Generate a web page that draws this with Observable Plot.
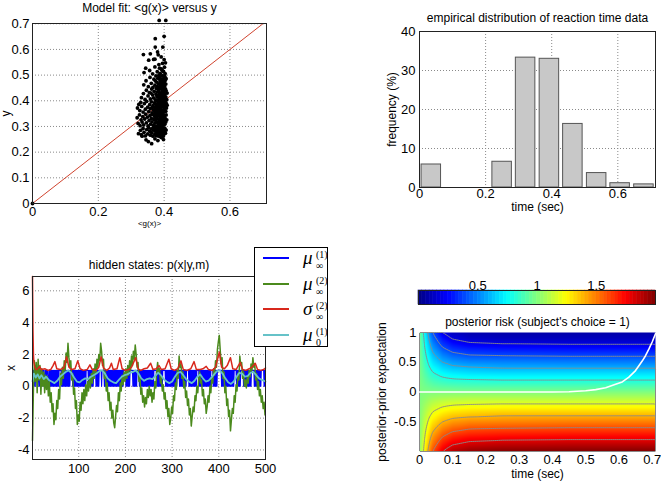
<!DOCTYPE html>
<html><head><meta charset="utf-8">
<script src="https://cdn.jsdelivr.net/npm/d3@7"></script>
<script src="https://cdn.jsdelivr.net/npm/@observablehq/plot@0.6"></script>
<style>
body{margin:0;background:#fff;font-family:"Liberation Sans",Arial,sans-serif;}
#root{position:relative;width:661px;height:483px;overflow:hidden;background:#fff;}
.lg{position:absolute;left:254px;top:247px;width:74px;height:100px;border:1px solid #000;background:#fff;box-sizing:border-box;}
.lg .ln{position:absolute;left:8px;width:26px;height:2px;}
.lg .mu{position:absolute;left:48px;font:italic 19px "Liberation Serif","DejaVu Serif",serif;line-height:19px;}
.lg .sp{position:absolute;left:61px;font:10px "Liberation Serif","DejaVu Serif",serif;line-height:10px;}
</style></head><body><div id="root"></div>
<script>
// ---------- Panel 1: model fit ----------
const fitTitle = "Model fit: <g(x)> versus y";
const fitXTicks = [0, 0.2, 0.4, 0.6];
const fitYTicks = [0, 0.1, 0.2, 0.3, 0.4, 0.5, 0.6, 0.7];
const fitIdentity = [0, 0.72];
const fitPairs = [
[0,0],
[0.333,0.262],[0.345,0.248],[0.352,0.241],[0.362,0.233],[0.372,0.252],[0.381,0.245],[0.392,0.257],[0.398,0.249],
[0.322,0.272],[0.328,0.285],[0.331,0.268],[0.336,0.292],[0.339,0.277],[0.343,0.263],[0.347,0.288],[0.35,0.271],[0.353,0.295],[0.356,0.282],[0.358,0.266],[0.361,0.291],[0.363,0.275],[0.366,0.262],[0.368,0.286],[0.37,0.297],[0.372,0.27],[0.374,0.281],[0.376,0.264],[0.378,0.293],[0.379,0.276],[0.381,0.287],[0.383,0.268],[0.384,0.298],[0.386,0.279],[0.387,0.261],[0.389,0.29],[0.39,0.272],[0.392,0.284],[0.393,0.265],[0.395,0.295],[0.396,0.277],[0.398,0.288],[0.399,0.269],[0.401,0.282],[0.402,0.293],[0.404,0.274],[0.406,0.286],[0.373,0.289],[0.382,0.263],[0.388,0.299],[0.394,0.27],[0.359,0.279],[0.367,0.294],[0.397,0.262],
[0.318,0.334],[0.321,0.312],[0.325,0.345],[0.327,0.303],[0.33,0.326],[0.333,0.317],[0.335,0.338],[0.338,0.306],[0.341,0.329],[0.344,0.348],[0.346,0.314],[0.349,0.336],[0.351,0.302],[0.354,0.323],[0.357,0.343],[0.359,0.309],[0.361,0.331],[0.363,0.318],[0.365,0.347],[0.367,0.304],[0.369,0.327],[0.371,0.339],[0.372,0.313],[0.374,0.349],[0.375,0.322],[0.377,0.301],[0.378,0.335],[0.38,0.316],[0.381,0.344],[0.383,0.307],[0.384,0.328],[0.385,0.341],[0.387,0.311],[0.388,0.333],[0.389,0.319],[0.391,0.346],[0.392,0.302],[0.393,0.325],[0.394,0.337],[0.396,0.314],[0.397,0.348],[0.398,0.306],[0.399,0.329],[0.4,0.32],[0.401,0.341],[0.402,0.309],[0.403,0.332],[0.405,0.317],[0.406,0.345],[0.408,0.326],[0.376,0.33],[0.386,0.322],[0.395,0.31],[0.382,0.349],[0.39,0.338],
[0.319,0.372],[0.323,0.386],[0.326,0.362],[0.329,0.394],[0.332,0.378],[0.336,0.356],[0.34,0.389],[0.343,0.367],[0.347,0.398],[0.35,0.375],[0.353,0.358],[0.356,0.385],[0.358,0.369],[0.361,0.396],[0.363,0.353],[0.366,0.381],[0.368,0.364],[0.37,0.392],[0.372,0.374],[0.373,0.357],[0.375,0.387],[0.377,0.366],[0.378,0.399],[0.38,0.379],[0.381,0.355],[0.383,0.391],[0.384,0.371],[0.386,0.36],[0.387,0.384],[0.388,0.397],[0.39,0.368],[0.391,0.352],[0.392,0.388],[0.393,0.376],[0.395,0.362],[0.396,0.393],[0.397,0.38],[0.398,0.357],[0.4,0.386],[0.401,0.369],[0.402,0.398],[0.403,0.377],[0.405,0.359],[0.406,0.39],[0.407,0.372],[0.409,0.383],[0.376,0.377],[0.385,0.352],[0.389,0.378],[0.394,0.397],[0.399,0.365],[0.382,0.383],[0.371,0.359],[0.364,0.374],[0.404,0.392],
[0.331,0.412],[0.337,0.428],[0.342,0.405],[0.346,0.441],[0.351,0.419],[0.355,0.432],[0.358,0.407],[0.362,0.446],[0.365,0.423],[0.368,0.411],[0.37,0.437],[0.373,0.403],[0.375,0.426],[0.377,0.448],[0.379,0.414],[0.38,0.435],[0.382,0.402],[0.384,0.421],[0.385,0.444],[0.387,0.409],[0.388,0.431],[0.39,0.417],[0.391,0.447],[0.392,0.404],[0.394,0.425],[0.395,0.438],[0.396,0.412],[0.398,0.433],[0.399,0.401],[0.4,0.419],[0.401,0.442],[0.402,0.408],[0.403,0.427],[0.405,0.415],[0.406,0.439],[0.408,0.404],[0.409,0.43],[0.386,0.426],[0.393,0.414],[0.397,0.449],[0.383,0.437],[0.389,0.403],[0.404,0.446],[0.378,0.42],[0.36,0.43],
[0.338,0.462],[0.345,0.478],[0.352,0.455],[0.357,0.491],[0.361,0.468],[0.366,0.452],[0.369,0.484],[0.372,0.461],[0.375,0.497],[0.377,0.473],[0.379,0.456],[0.381,0.488],[0.383,0.466],[0.385,0.451],[0.386,0.494],[0.388,0.476],[0.389,0.459],[0.391,0.485],[0.392,0.47],[0.394,0.454],[0.395,0.498],[0.396,0.481],[0.398,0.463],[0.399,0.489],[0.4,0.472],[0.401,0.457],[0.402,0.495],[0.403,0.479],[0.405,0.465],[0.406,0.486],[0.393,0.466],[0.387,0.483],[0.397,0.474],[0.384,0.499],[0.373,0.478],
[0.339,0.51],[0.344,0.527],[0.356,0.518],[0.365,0.505],[0.372,0.532],[0.379,0.513],[0.384,0.541],[0.388,0.507],[0.391,0.524],[0.395,0.546],[0.398,0.514],[0.401,0.531],[0.403,0.506],[0.394,0.519],[0.386,0.527],
[0.353,0.558],[0.368,0.561],[0.372,0.562],[0.4,0.56],[0.404,0.548],[0.337,0.58],[0.358,0.583],[0.382,0.579],[0.373,0.609],[0.396,0.609],[0.38,0.59],[0.373,0.642],[0.4,0.651],[0.385,0.713],[0.405,0.713],[0.391,0.571]
];

// ---------- Panel 2: histogram ----------
const histTitle = "empirical distribution of reaction time data";
const histCenters = [0.0357, 0.107, 0.179, 0.25, 0.321, 0.393, 0.464, 0.536, 0.607, 0.679];
const histFreq = [5.9, 0, 0, 6.6, 33.3, 33.0, 16.3, 3.7, 1.1, 0.8];
const histXTicks = [0, 0.2, 0.4, 0.6];
const histYTicks = [0, 10, 20, 30, 40];

// ---------- Panel 3: hidden states ----------
const statesTitle = "hidden states: p(x|y,m)";
const statesXTicks = [100, 200, 300, 400, 500];
const statesYTicks = [-4, -2, 0, 2, 4, 6];
// mu_inf^(1): per sample (t = 1..500), low/high state
const muInf1Chunks = [
"1110011011","1001101100","1110110011","0111001101","0101010101",
"0101010111","1101010101","0101010101","0111110101","0101010101",
"0101010101","0101011111","0101010101","0111110101","0101111101",
"1111010101","0101010101","0101010101","0101010101","0101011111",
"0101010101","1111101010","1010111110","1010101010","1010101010",
"1010101010","1111110101","0101010101","1111101010","1010101010",
"1010101010","1111101010","1010101010","1111101010","1010101010",
"1011111010","1010101010","1010101010","1011111010","1010101111",
"1111101010","1010101010","1010101010","1011111010","1010101111",
"1101010101","0101010101","1111101010","1010101010","1111110101"];
// mu_inf^(2): samples at t = 1,3,5,...,499
const muInf2 = [
-3.4,-0.2,1.6,0.3,1.5,-0.4,1.7,0.4,1.3,-0.5,1.1,0.0,0.9,-0.4,0.7,-0.2,0.6,-0.6,0.3,-1.0,
-0.4,-1.6,-1.1,-2.4,-1.7,-2.1,-0.9,-1.4,-0.2,-0.8,0.8,0.1,1.2,0.5,1.6,1.0,2.1,1.5,2.7,1.8,
1.2,1.6,0.4,0.8,-0.5,-0.1,-1.4,-0.9,-2.4,-1.8,-2.2,-1.0,-1.5,-0.4,-1.1,-0.2,-0.9,0.1,-0.6,0.3,
-0.3,0.6,-0.1,0.8,0.2,1.1,0.5,1.4,0.8,1.7,1.2,2.0,1.6,2.7,2.2,1.3,1.7,0.5,0.9,-0.3,
0.2,-0.9,-0.4,-1.5,-1.0,-2.0,-1.5,-2.3,-2.6,-1.9,-1.2,-1.6,-0.4,-0.9,0.2,-0.3,0.7,0.1,0.9,0.3,
1.1,0.5,1.3,0.7,1.6,1.0,1.9,1.3,2.2,1.7,2.6,2.0,1.2,1.5,0.3,0.7,-0.5,-0.1,-1.0,-0.6,
-1.3,-0.7,-1.1,-0.2,-0.7,0.0,-0.6,-0.2,-1.0,-0.4,-0.8,0.3,-0.1,0.9,1.5,0.8,1.1,0.2,0.6,-0.3,
0.1,-0.8,-0.4,-1.4,-0.9,-1.9,-1.4,-2.4,-2.0,-1.3,-1.7,-0.6,-0.9,0.2,-0.2,1.0,0.5,1.9,1.2,1.4,
0.5,0.9,-0.1,0.3,-0.7,-0.3,-1.2,-0.8,-1.8,-1.4,-2.5,-1.9,-1.3,-1.6,-0.6,-0.9,0.0,-0.4,0.5,0.9,
0.2,0.4,-0.6,-0.2,-1.1,-0.8,-1.7,-1.3,-0.6,-1.0,0.0,-0.4,0.6,0.2,1.1,0.7,1.6,1.2,2.3,2.8,
3.2,2.3,1.4,1.8,0.5,0.9,-0.4,0.0,-1.2,-0.8,-1.9,-1.5,-2.8,-2.1,-1.4,-1.7,-0.6,-1.0,0.1,-0.3,
0.8,0.4,1.9,1.3,1.5,0.5,0.9,0.0,0.4,-0.1,0.6,0.2,1.0,0.6,1.4,1.0,1.8,1.2,1.4,0.4,
0.8,-0.2,0.3,-0.6,-0.2,-1.0,-0.6,-1.4,-1.0,-1.8];
// sigma_inf^(2): [t, value]
const sigmaInf2 = [[1,6.9],[2,3.5],[3,2.0],[4,1.5],[6,1.2],[9,1.05],[12,1.1],[16,1.25],[20,1.05],[28,1.1],[34,1.0],[40,1.05],[45,1.3],[49,1.55],[53,1.1],[60,1.05],[68,1.15],[74,1.85],[79,1.2],[85,1.05],[92,1.1],[98,1.6],[103,1.1],[110,1.0],[118,1.05],[124,1.35],[129,1.05],[137,1.0],[143,1.2],[148,1.85],[153,1.15],[160,1.0],[166,1.15],[170,1.45],[174,1.05],[182,1.1],[188,1.8],[193,1.1],[200,1.0],[207,1.05],[213,1.2],[222,1.8],[227,1.1],[233,1.0],[240,1.1],[247,1.15],[254,1.45],[259,1.05],[266,1.1],[272,1.3],[277,1.05],[285,1.1],[293,1.7],[298,1.1],[305,1.0],[312,1.1],[319,1.6],[324,1.05],[332,1.0],[340,1.1],[347,1.55],[352,1.05],[360,1.05],[366,1.1],[373,1.25],[378,1.05],[386,1.0],[393,1.2],[401,2.15],[406,1.2],[412,1.1],[418,1.3],[425,1.8],[430,1.1],[437,1.05],[446,1.5],[451,1.05],[458,1.0],[465,1.1],[471,1.2],[478,1.45],[483,1.05],[490,1.0],[496,1.05],[500,1.15]];
// mu_0^(1): [t, value]
const mu0 = [[1,0.3],[4,0.8],[8,0.55],[12,0.75],[16,0.5],[20,0.7],[25,0.45],[30,0.6],[36,0.4],[42,0.3],[48,0.2],[54,0.35],[60,0.6],[66,0.75],[72,0.9],[78,1.0],[84,0.85],[90,0.55],[96,0.3],[102,0.25],[108,0.4],[114,0.5],[120,0.45],[126,0.6],[132,0.7],[138,0.8],[144,0.95],[150,1.0],[156,0.8],[162,0.5],[168,0.35],[174,0.25],[180,0.2],[186,0.4],[192,0.6],[198,0.7],[204,0.75],[210,0.85],[216,0.9],[222,1.0],[228,0.8],[234,0.5],[240,0.35],[246,0.45],[252,0.5],[258,0.45],[264,0.65],[270,0.85],[276,0.7],[282,0.45],[288,0.3],[294,0.2],[300,0.3],[306,0.6],[312,0.85],[318,0.9],[324,0.7],[330,0.45],[336,0.3],[342,0.2],[348,0.35],[354,0.6],[360,0.75],[366,0.5],[372,0.3],[378,0.35],[384,0.55],[390,0.75],[396,0.95],[402,1.0],[408,0.8],[414,0.5],[420,0.25],[426,0.15],[432,0.3],[438,0.6],[444,0.85],[450,0.8],[456,0.6],[462,0.65],[468,0.85],[474,0.9],[480,0.7],[486,0.5],[492,0.4],[500,0.3]];

// ---------- Panel 4: posterior risk ----------
const riskTitle = "posterior risk (subject's choice = 1)";
const riskTimes = [0, 0.006, 0.012, 0.018, 0.025, 0.032, 0.04, 0.055, 0.07, 0.1, 0.15, 0.25, 0.45, 0.71];
const riskRows = [1, 0.9, 0.8, 0.7, 0.6, 0.5, 0.4, 0.3, 0.2, 0.1, 0, -0.1, -0.2, -0.3, -0.4, -0.5, -0.6, -0.7, -0.8, -0.9, -1];
const riskValues = [
[0.97,0.90,0.80,0.70,0.60,0.50,0.40,0.30,0.20,0.12,0.09,0.08,0.08,0.08],
[0.97,0.91,0.82,0.73,0.64,0.55,0.46,0.37,0.28,0.19,0.14,0.12,0.12,0.12],
[0.98,0.92,0.84,0.76,0.68,0.60,0.52,0.44,0.36,0.28,0.23,0.21,0.20,0.20],
[0.98,0.93,0.86,0.79,0.72,0.65,0.58,0.51,0.44,0.37,0.33,0.31,0.30,0.30],
[0.98,0.94,0.88,0.82,0.76,0.70,0.64,0.58,0.52,0.46,0.42,0.41,0.40,0.40],
[0.99,0.95,0.90,0.85,0.80,0.75,0.70,0.65,0.60,0.55,0.52,0.51,0.50,0.50],
[0.99,0.96,0.92,0.88,0.84,0.80,0.76,0.72,0.68,0.64,0.62,0.60,0.60,0.60],
[0.99,0.97,0.94,0.91,0.88,0.85,0.82,0.79,0.76,0.73,0.71,0.70,0.70,0.70],
[0.99,0.98,0.96,0.94,0.92,0.90,0.88,0.86,0.84,0.82,0.81,0.80,0.80,0.80],
[1.00,0.99,0.98,0.97,0.96,0.95,0.94,0.93,0.92,0.91,0.90,0.90,0.90,0.90],
[1.00,1.00,1.00,1.00,1.00,1.00,1.00,1.00,1.00,1.00,1.00,1.00,1.00,1.00],
[1.00,1.01,1.02,1.03,1.04,1.05,1.06,1.07,1.08,1.09,1.10,1.10,1.10,1.10],
[1.01,1.02,1.04,1.06,1.08,1.10,1.12,1.14,1.16,1.18,1.19,1.20,1.20,1.20],
[1.01,1.03,1.06,1.09,1.12,1.15,1.18,1.21,1.24,1.27,1.29,1.30,1.30,1.30],
[1.01,1.04,1.08,1.12,1.16,1.20,1.24,1.28,1.32,1.36,1.38,1.40,1.40,1.40],
[1.01,1.05,1.10,1.15,1.20,1.25,1.30,1.35,1.40,1.45,1.48,1.49,1.50,1.50],
[1.02,1.06,1.12,1.18,1.24,1.30,1.36,1.42,1.48,1.54,1.58,1.59,1.60,1.60],
[1.02,1.07,1.14,1.21,1.28,1.35,1.42,1.49,1.56,1.63,1.67,1.69,1.70,1.70],
[1.02,1.08,1.16,1.24,1.32,1.40,1.48,1.56,1.64,1.72,1.77,1.79,1.80,1.80],
[1.03,1.09,1.18,1.27,1.36,1.45,1.54,1.63,1.72,1.81,1.86,1.89,1.90,1.90],
[1.03,1.10,1.20,1.30,1.40,1.50,1.60,1.70,1.80,1.90,1.96,1.99,2.00,2.00]];
const riskContourLevels = [0.2, 0.4, 0.6, 0.8, 1.2, 1.4, 1.6, 1.8];
const boundary = [[0,0],[0.2,0],[0.4,0],[0.45,0.005],[0.5,0.02],[0.53,0.04],[0.56,0.07],[0.59,0.13],[0.61,0.17],[0.63,0.25],[0.65,0.36],[0.67,0.52],[0.68,0.61],[0.69,0.72],[0.7,0.84],[0.71,0.98]];
const riskXTicks = [0, 0.1, 0.2, 0.3, 0.4, 0.5, 0.6, 0.7];
const riskYTicks = [-0.5, 0, 0.5, 1];
const cbarTicks = [0.5, 1, 1.5];
const cbarDomain = [0, 2];

// ---------- rendering ----------
const root = document.getElementById("root");
const FONT = "Liberation Sans, Arial, Helvetica, sans-serif";
const style = {fontFamily: FONT, fontSize: "12px", color: "#000", background: "transparent", overflow: "visible"};
const TICK = 13;
const fmt = d => String(d);
const gridStyle = {stroke: "#8a8a8a", strokeOpacity: 1, strokeDasharray: "1,2", strokeWidth: 1};
const lbl = {textAnchor: "middle", lineAnchor: "middle"};
function place(el, left, top) {
  el.style.position = "absolute"; el.style.left = left + "px"; el.style.top = top + "px";
  root.appendChild(el);
}
const jet = {type: "linear", domain: [0, 0.25, 0.75, 1.25, 1.75, 2], range: ["#000080", "#0000ff", "#00ffff", "#ffff00", "#ff0000", "#800000"], interpolate: "rgb", clamp: true};

// Panel 1
place(Plot.plot({
  width: 290, height: 232, marginLeft: 32, marginRight: 24, marginTop: 23, marginBottom: 29, style,
  x: {domain: [0, 0.711], label: null}, y: {domain: [0, 0.701], label: null},
  marks: [
    Plot.gridX(fitXTicks.slice(1), gridStyle),
    Plot.gridY(fitYTicks.slice(1), gridStyle),
    Plot.line(fitIdentity, {x: d => d, y: d => d, stroke: "#d0442f", strokeWidth: 1, clip: true}),
    Plot.dot(fitPairs, {x: d => d[0], y: d => d[1], r: 1.9, fill: "#000", stroke: "none"}),
    Plot.frame({stroke: "#222"}),
    Plot.axisX(fitXTicks, {tickSize: 0, tickPadding: 3, tickFormat: fmt, label: null, fontSize: TICK}),
    Plot.axisY(fitYTicks, {tickSize: 0, tickPadding: 3, tickFormat: fmt, label: null, fontSize: TICK}),
    Plot.text([fitTitle], {text: d => d, frameAnchor: "top", dy: -15, ...lbl}),
    Plot.text(["<g(x)>"], {text: d => d, frameAnchor: "bottom", dy: 20, fontSize: 8, ...lbl}),
    Plot.text(["y"], {text: d => d, frameAnchor: "left", dx: -26, rotate: -90, ...lbl})
  ]
}), 0, 0);

// Panel 2
const hist = histCenters.map((c, i) => ({c, f: histFreq[i]})).filter(d => d.f > 0);
place(Plot.plot({
  width: 291, height: 215, marginLeft: 49, marginRight: 6, marginTop: 31, marginBottom: 28, style,
  x: {domain: [0, 0.714], label: null}, y: {domain: [0, 40], label: null},
  marks: [
    Plot.gridX(histXTicks.slice(1), gridStyle),
    Plot.gridY(histYTicks.slice(1, -1), gridStyle),
    Plot.rectY(hist, {x1: d => d.c - 0.0295, x2: d => d.c + 0.0295, y: "f", fill: "#c8c8c8", stroke: "#555", strokeWidth: 1}),
    Plot.frame({stroke: "#222"}),
    Plot.axisX(histXTicks, {tickSize: 0, tickPadding: 1, tickFormat: fmt, label: null, fontSize: TICK}),
    Plot.axisY(histYTicks, {tickSize: 0, tickPadding: 4, tickFormat: fmt, label: null, fontSize: TICK}),
    Plot.text([histTitle], {text: d => d, frameAnchor: "top", dy: -13, ...lbl}),
    Plot.text(["time (sec)"], {text: d => d, frameAnchor: "bottom", dy: 20, ...lbl}),
    Plot.text(["frequency (%)"], {text: d => d, frameAnchor: "left", dx: -27, rotate: -90, ...lbl})
  ]
}), 370, 0);

// Panel 3
const muInf1 = muInf1Chunks.join("").split("").map(Number);
place(Plot.plot({
  width: 290, height: 243, marginLeft: 32, marginRight: 25, marginTop: 36, marginBottom: 24, style,
  x: {domain: [1, 500], label: null}, y: {domain: [-4.6, 6.9], label: null},
  marks: [
    Plot.gridX(statesXTicks.slice(0, -1), gridStyle),
    Plot.gridY(statesYTicks, gridStyle),
    Plot.line(muInf1, {x: (d, i) => i + 1, y: d => d, stroke: "#0000ff", strokeWidth: 1.1}),
    Plot.line(muInf2, {x: (d, i) => 1 + 2 * i, y: d => d, stroke: "#4b8a1d", strokeWidth: 1.5}),
    Plot.line(sigmaInf2, {x: d => d[0], y: d => d[1], stroke: "#d8281c", strokeWidth: 1.5}),
    Plot.line(mu0, {x: d => d[0], y: d => d[1], stroke: "#66c2c8", strokeWidth: 1.8}),
    Plot.frame({stroke: "#222"}),
    Plot.axisX(statesXTicks, {tickSize: 0, tickPadding: 4, tickFormat: fmt, label: null, fontSize: TICK}),
    Plot.axisY(statesYTicks, {tickSize: 0, tickPadding: 3, tickFormat: fmt, label: null, fontSize: TICK}),
    Plot.text([statesTitle], {text: d => d, frameAnchor: "top", dy: -11, ...lbl}),
    Plot.text(["x"], {text: d => d, frameAnchor: "left", dx: -21, rotate: -90, ...lbl})
  ]
}), 0, 240);

// Legend for panel 3
const legendItems = [
  {color: "#0000ff", sym: "μ", sup: "(1)", sub: "∞"},
  {color: "#4b8a1d", sym: "μ", sup: "(2)", sub: "∞"},
  {color: "#d8281c", sym: "σ", sup: "(2)", sub: "∞"},
  {color: "#66c2c8", sym: "μ", sup: "(1)", sub: "0"}
];
const lg = document.createElement("div");
lg.className = "lg";
legendItems.forEach((it, i) => {
  const cy = 10 + i * 25.5;
  lg.insertAdjacentHTML("beforeend",
    `<div class="ln" style="top:${cy - 1}px;background:${it.color}"></div>` +
    `<div class="mu" style="top:${cy - 10}px">${it.sym}</div>` +
    `<div class="sp" style="top:${cy - 8}px">${it.sup}</div>` +
    `<div class="sp" style="top:${cy + 3}px">${it.sub}</div>`);
});
root.appendChild(lg);

// Panel 4: colorbar
const cbarCells = d3.range(64);
place(Plot.plot({
  width: 291, height: 40, marginLeft: 48, marginRight: 6, marginTop: 20, marginBottom: 6, style,
  x: {domain: cbarDomain, label: null}, y: {domain: [0, 1], axis: null},
  color: jet,
  marks: [
    Plot.rect(cbarCells, {x1: i => i * cbarDomain[1] / 64, x2: i => (i + 1) * cbarDomain[1] / 64, y1: 0, y2: 1,
      fill: i => (i + 0.5) * cbarDomain[1] / 64, stroke: i => (i + 0.5) * cbarDomain[1] / 64, strokeWidth: 0.6}),
    Plot.frame({stroke: "#222"}),
    Plot.axisX(cbarTicks, {anchor: "top", tickSize: 0, tickPadding: 1, tickFormat: fmt, label: null, fontSize: TICK})
  ]
}), 370, 270);

// Panel 4: heatmap
const riskTable = riskRows.flatMap((y, r) => riskTimes.map((t, c) => ({t, y, v: riskValues[r][c]})));
place(Plot.plot({
  width: 291, height: 173, marginLeft: 49, marginRight: 6, marginTop: 22, marginBottom: 32, style,
  x: {domain: [0, 0.71], label: null}, y: {domain: [-1, 1], label: null},
  color: jet,
  marks: [
    Plot.raster(riskTable, {x: "t", y: "y", fill: "v", interpolate: "barycentric", pixelSize: 1,
      x1: riskTimes[0], x2: riskTimes[riskTimes.length - 1], y1: riskRows[riskRows.length - 1], y2: riskRows[0]}),
    Plot.contour(riskTable, {x: "t", y: "y", value: "v", thresholds: riskContourLevels, interpolate: "barycentric",
      x1: riskTimes[0], x2: riskTimes[riskTimes.length - 1], y1: riskRows[riskRows.length - 1], y2: riskRows[0],
      fill: "none", stroke: "#8a8a8a", strokeWidth: 0.9}),
    Plot.line(boundary, {x: d => d[0], y: d => d[1], stroke: "#fff", strokeWidth: 1.6}),
    Plot.axisX(riskXTicks, {tickSize: 0, tickPadding: 3, tickFormat: fmt, label: null, fontSize: TICK}),
    Plot.axisY(riskYTicks, {tickSize: 0, tickPadding: 3, tickFormat: fmt, label: null, fontSize: TICK}),
    Plot.text([riskTitle], {text: d => d, frameAnchor: "top", dy: -10, ...lbl}),
    Plot.text(["time (sec)"], {text: d => d, frameAnchor: "bottom", dy: 23, ...lbl}),
    Plot.text(["posterior-prior expectation"], {text: d => d, frameAnchor: "left", dx: -37, rotate: -90, ...lbl})
  ]
}), 370, 310);
</script>
</body></html>
